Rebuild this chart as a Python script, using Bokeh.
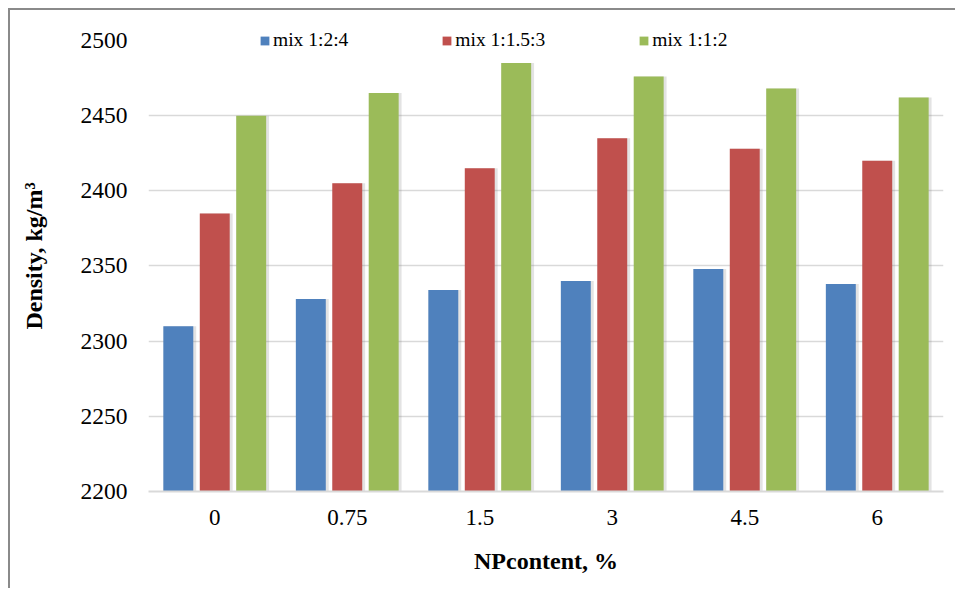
from bokeh.plotting import figure
from bokeh.models import FactorRange, Range1d, FixedTicker, Legend, LegendItem, ColumnDataSource
from bokeh.transform import dodge
from bokeh.embed import file_html
from bokeh.resources import INLINE

# ---- data ----
categories = ["0", "0.75", "1.5", "3", "4.5", "6"]
mix_124 = [2310, 2328, 2334, 2340, 2348, 2338]
mix_1153 = [2385, 2405, 2415, 2435, 2428, 2420]
mix_112 = [2450, 2465, 2485, 2476, 2468, 2462]
series_names = ["mix 1:2:4", "mix 1:1.5:3", "mix 1:1:2"]
y_ticks = [2200, 2250, 2300, 2350, 2400, 2450, 2500]
grid_ticks = [2250, 2300, 2350, 2400, 2450]
x_title = "NPcontent, %"
y_title = "Density, kg/m³"

colors = ["#4f81bd", "#c0504d", "#9bbb59"]
FONT = "Liberation Serif"

source = ColumnDataSource(dict(cat=categories, s0=mix_124, s1=mix_1153, s2=mix_112))

p = figure(width=947, height=580, x_range=FactorRange(*categories),
           y_range=Range1d(2200, 2513.3), output_backend="svg", toolbar_location=None,
           min_border_left=138, min_border_right=14, min_border_top=10, min_border_bottom=99)
p.styles = {"border-left": "2px solid #8a8a8a", "border-top": "2px solid #8a8a8a",
            "margin-left": "8px", "margin-top": "8px"}
p.outline_line_color = None
p.background_fill_color = "white"
p.border_fill_color = "white"

offsets = [-0.275, 0.0, 0.275]
bar_w = 0.226
items = []
for i, (name, col) in enumerate(zip(series_names, colors)):
    # soft shadow
    p.vbar(x=dodge("cat", offsets[i] + 0.012, range=p.x_range), top="s%d" % i, bottom=2200,
           width=bar_w + 0.02, source=source, fill_color="#808080", fill_alpha=0.22, line_color=None)
for i, (name, col) in enumerate(zip(series_names, colors)):
    r = p.vbar(x=dodge("cat", offsets[i], range=p.x_range), top="s%d" % i, bottom=2200,
               width=bar_w, source=source, fill_color=col, line_color=None)
    items.append(LegendItem(label=name, renderers=[r]))

# axes
p.yaxis.ticker = FixedTicker(ticks=y_ticks)
p.ygrid.ticker = FixedTicker(ticks=grid_ticks)
p.ygrid.grid_line_color = "#d9d9d9"
p.ygrid.grid_line_width = 1.5
p.xgrid.grid_line_color = None

p.yaxis.axis_line_color = None
p.yaxis.major_tick_line_color = None
p.yaxis.minor_tick_line_color = None
p.yaxis.major_tick_out = 0
p.yaxis.major_tick_in = 0
p.yaxis.major_label_standoff = 21
p.yaxis.major_label_text_font = FONT
p.yaxis.major_label_text_font_size = "23.5px"
p.yaxis.major_label_text_color = "black"
p.yaxis.axis_label = y_title
p.yaxis.axis_label_text_font = FONT
p.yaxis.axis_label_text_font_style = "bold"
p.yaxis.axis_label_text_font_size = "24px"
p.yaxis.axis_label_text_color = "black"
p.yaxis.axis_label_standoff = 31

p.xaxis.axis_line_color = "#d9d9d9"
p.xaxis.axis_line_width = 2
p.xaxis.major_tick_line_color = None
p.xaxis.major_tick_out = 0
p.xaxis.major_tick_in = 0
p.xaxis.major_label_standoff = 18
p.xaxis.major_label_text_font = FONT
p.xaxis.major_label_text_font_size = "23px"
p.xaxis.major_label_text_color = "black"
p.xaxis.axis_label = x_title
p.xaxis.axis_label_text_font = FONT
p.xaxis.axis_label_text_font_style = "bold"
p.xaxis.axis_label_text_font_size = "24px"
p.xaxis.axis_label_text_color = "black"
p.xaxis.axis_label_standoff = 20

legend = Legend(items=items, orientation="horizontal", location=(111, 440),
                glyph_width=11, glyph_height=11, label_standoff=3, spacing=93,
                padding=0, margin=0, border_line_color=None, background_fill_alpha=0,
                label_text_font=FONT, label_text_font_size="19.5px", label_text_color="black")
p.add_layout(legend)

open("out.html", "w").write(file_html(p, INLINE))
